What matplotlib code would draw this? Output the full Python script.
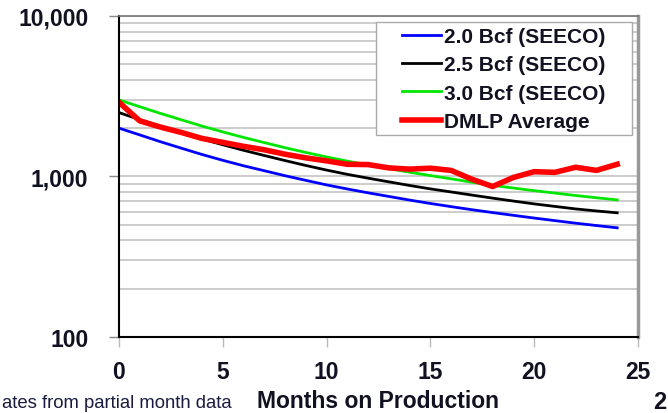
import matplotlib.pyplot as plt
from matplotlib.patches import Rectangle
from matplotlib.ticker import FixedLocator, LogLocator, NullFormatter

plt.rcParams['font.family'] = ['Liberation Sans', 'DejaVu Sans']

months = list(range(25))

# monthly rate type curves (SEECO) and DMLP field average
seeco_20 = [2000, 1815, 1645, 1500, 1370, 1260, 1165, 1085, 1010, 945, 885,
            835, 790, 750, 712, 678, 648, 620, 595, 572, 550, 530, 511, 494, 478]
seeco_25 = [2500, 2260, 2055, 1875, 1710, 1575, 1455, 1350, 1255, 1170, 1095,
            1030, 975, 925, 878, 836, 800, 765, 732, 702, 674, 650, 627, 609, 593]
seeco_30 = [3000, 2720, 2470, 2255, 2060, 1895, 1750, 1625, 1510, 1410, 1322,
            1245, 1178, 1118, 1062, 1012, 966, 920, 880, 846, 815, 787, 760, 736, 714]
dmlp_avg = [2900, 2220, 2030, 1880, 1725, 1630, 1540, 1465, 1375, 1305, 1250,
            1190, 1185, 1130, 1110, 1125, 1090, 960, 865, 985, 1070, 1060, 1140, 1090, 1190]

fig = plt.figure(figsize=(6.68, 4.14), dpi=100)
ax = fig.add_axes([0.178, 0.184, 0.777, 0.775])

ax.plot(months, seeco_20, color='#0000ff', lw=2.0, label='2.0 Bcf (SEECO)')
ax.plot(months, seeco_25, color='black', lw=2.0, label='2.5 Bcf (SEECO)')
ax.plot(months, seeco_30, color='#00e600', lw=2.0, label='3.0 Bcf (SEECO)')
ax.plot(months, dmlp_avg, color='#ff0000', lw=4.0, label='DMLP Average')

ax.set_yscale('log')
ax.set_ylim(100, 10000)
ax.set_xlim(0, 25)

ax.yaxis.set_major_locator(FixedLocator([100, 1000, 10000]))
ax.yaxis.set_minor_locator(LogLocator(base=10, subs=range(2, 10)))
ax.yaxis.set_minor_formatter(NullFormatter())
ax.set_yticklabels(['100', '1,000', '10,000'])
ax.set_xticks(range(0, 26, 5))

ax.grid(True, which='both', axis='y', color='#c8c8c8', lw=1.3)
ax.set_axisbelow(True)

ax.tick_params(axis='y', which='major', direction='out', length=7, width=1,
               color='#888888', pad=15, labelsize=16.5, labelcolor='#111122')
ax.tick_params(axis='y', which='minor', length=0)
ax.tick_params(axis='x', direction='out', length=7, width=1, color='#bbbbbb',
               pad=10, labelsize=16.5, labelcolor='#111122')
for lab in ax.get_xticklabels() + ax.get_yticklabels():
    lab.set_fontweight('bold')

ax.spines['left'].set_color('black')
ax.spines['left'].set_linewidth(1.5)
ax.spines['bottom'].set_color('black')
ax.spines['bottom'].set_linewidth(1.5)
ax.spines['top'].set_color('#777777')
ax.spines['top'].set_linewidth(1.2)
ax.spines['right'].set_color('#999999')
ax.spines['right'].set_linewidth(2.5)

ax.set_xlabel('Months on Production', fontsize=16.5, fontweight='bold',
              color='#111122', labelpad=4)

# legend box is wider than the entries, so draw it separately
ax.add_patch(Rectangle((0.4954, 0.629), 0.4932, 0.3523, transform=ax.transAxes,
                       facecolor='white', edgecolor='#aaaaaa', lw=1.0, zorder=4))
leg = ax.legend(loc='center', bbox_to_anchor=(0.742, 0.8036), frameon=False,
                handlelength=1.87, handletextpad=0.15, borderpad=0.0,
                labelspacing=0.45, borderaxespad=0.0,
                prop={'size': 15, 'weight': 'bold'})
leg.set_zorder(5)
for t in leg.get_texts():
    t.set_color('#111122')

fig.text(2 / 668, 1 - 404 / 414, 'ates from partial month data', ha='left',
         va='center', fontsize=13.3, color='#1a1a40')
fig.text(653 / 668, 1 - 403 / 414, '2', ha='left', va='center', fontsize=17,
         fontweight='bold', color='#111122')

fig.savefig('out.png', dpi=100)
